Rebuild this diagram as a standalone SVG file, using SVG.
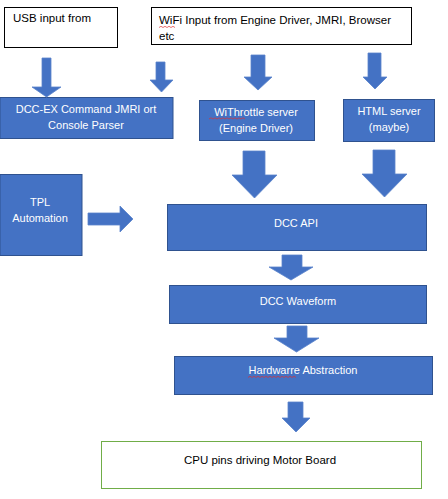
<svg xmlns="http://www.w3.org/2000/svg" width="448" height="499" viewBox="0 0 448 499">
<style>
.b{fill:#4472C4;stroke:#2F528F;stroke-width:1}
.w{fill:#ffffff;stroke:#000000;stroke-width:1}
.g{fill:#ffffff;stroke:#70AD47;stroke-width:1}
.a{fill:#4472C4;stroke:#5b84cc;stroke-width:0.8}
.t{font-family:"Liberation Sans","Open Sans",sans-serif;font-size:11px;fill:#ffffff;text-anchor:middle}
.k{font-family:"Liberation Sans","Open Sans",sans-serif;font-size:11.5px;fill:#000000}
.sq{fill:none;stroke:#e03030;stroke-width:0.7}
</style>
<rect width="448" height="499" fill="#ffffff"/>
<g id="usb"><rect class="w" x="4.5" y="7.5" width="113" height="40"/><text class="k" x="13" y="22">USB input from</text></g>
<g id="wifi"><rect class="w" x="151.5" y="7.5" width="260" height="37"/><text class="k" x="159" y="24">WiFi Input from Engine Driver, JMRI, Browser</text><text class="k" x="159" y="40">etc</text><path class="sq" d="M159,27.5 l2,-1.2 l2,1.2 l2,-1.2 l2,1.2 l2,-1.2 l2,1.2 l2,-1.2 l2,1.2"/></g>
<g id="parser"><rect class="b" x="0" y="97.5" width="173" height="41"/><text class="t" x="86" y="113">DCC-EX Command JMRI ort</text><text class="t" x="86" y="129">Console Parser</text></g>
<g id="withrottle"><rect class="b" x="199.5" y="100.5" width="115" height="40"/><text class="t" x="256" y="116">WiThrottle server</text><text class="t" x="256" y="132">(Engine Driver)</text><path class="sq" d="M209,119 l2,-1.2 l2,1.2 l2,-1.2 l2,1.2 l2,-1.2 l2,1.2 l2,-1.2 l2,1.2 l2,-1.2 l2,1.2 l2,-1.2 l2,1.2 l2,-1.2 l2,1.2 l2,-1.2 l2,1.2 l2,-1.2 l2,1.2"/></g>
<g id="html"><rect class="b" x="343.5" y="99.5" width="91" height="42"/><text class="t" x="389" y="115">HTML server</text><text class="t" x="389" y="131">(maybe)</text></g>
<g id="tpl"><rect class="b" x="0" y="174.5" width="82" height="81"/><text class="t" x="40" y="206">TPL</text><text class="t" x="40" y="222">Automation</text></g>
<g id="api"><rect class="b" x="167.5" y="204.5" width="259" height="46"/><text class="t" x="296" y="227">DCC API</text></g>
<g id="waveform"><rect class="b" x="169.5" y="285.5" width="257" height="38"/><text class="t" x="298" y="305">DCC Waveform</text></g>
<g id="hal"><rect class="b" x="174.5" y="356.5" width="258" height="38"/><text class="t" x="303" y="374">Hardwarre Abstraction</text><path class="sq" d="M248,377.5 l2,-1.2 l2,1.2 l2,-1.2 l2,1.2 l2,-1.2 l2,1.2 l2,-1.2 l2,1.2 l2,-1.2 l2,1.2 l2,-1.2 l2,1.2 l2,-1.2 l2,1.2 l2,-1.2 l2,1.2 l2,-1.2 l2,1.2 l2,-1.2 l2,1.2 l2,-1.2 l2,1.2 l2,-1.2 l2,1.2"/></g>
<g id="cpu"><rect class="g" x="101.5" y="441.5" width="320" height="47"/><text class="k" x="260" y="464" text-anchor="middle">CPU pins driving Motor Board</text></g>
<g id="connectors">
<polygon class="a" points="42,58 51,58 51,87 61,87 46.5,97 32,87 42,87"/>
<polygon class="a" points="156,62 165,62 165,80 173,80 161.5,92 150,80 156,80"/>
<polygon class="a" points="251,55 265,55 265,77 272,77 258,90 244,77 251,77"/>
<polygon class="a" points="368,53 381,53 381,77 387,77 375,89 363,77 368,77"/>
<polygon class="a" points="243,151 265,151 265,175 277,175 254.5,198 232,175 243,175"/>
<polygon class="a" points="373,150 395,150 395,174 407,174 384.5,197 362,174 373,174"/>
<polygon class="a" points="88,213 120,213 120,206 133,219 120,232 120,225 88,225"/>
<polygon class="a" points="282,255 302,255 302,267 313,267 291,280 269,267 282,267"/>
<polygon class="a" points="287,326 307,326 307,338 319,338 296.5,352 274,338 287,338"/>
<polygon class="a" points="288,402 303,402 303,418 310,418 296,432 282,418 288,418"/>
</g>
</svg>
